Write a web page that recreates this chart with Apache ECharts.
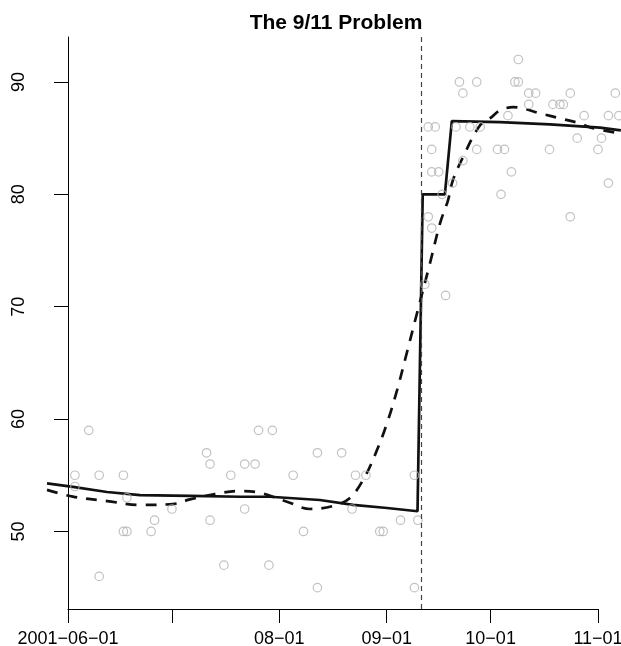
<!DOCTYPE html>
<html>
<head>
<meta charset="utf-8">
<script src="https://cdn.jsdelivr.net/npm/echarts@6/dist/echarts.min.js"></script>
<style>
html,body{margin:0;padding:0;background:#fff;}
#chart{width:621px;height:646px;}
</style>
</head>
<body>
<div id="chart"></div>
<script>
// ---- data ----
const title = 'The 9/11 Problem';
const originDate = '2001-06-01';
const eventDate = '2001-09-11';

const pollDates = [
  '2001-06-03','2001-06-03','2001-06-07','2001-06-10','2001-06-10','2001-06-17','2001-06-17','2001-06-18','2001-06-18','2001-06-25',
  '2001-06-26','2001-07-01','2001-07-11','2001-07-12','2001-07-12','2001-07-16','2001-07-18','2001-07-22','2001-07-22','2001-07-25',
  '2001-07-26','2001-07-29','2001-07-30','2001-08-05','2001-08-08','2001-08-12','2001-08-12','2001-08-19','2001-08-22','2001-08-23',
  '2001-08-26','2001-08-30','2001-08-31','2001-09-05','2001-09-09','2001-09-09','2001-09-10','2001-09-12','2001-09-13','2001-09-13',
  '2001-09-14','2001-09-14','2001-09-14','2001-09-15','2001-09-16','2001-09-17','2001-09-18','2001-09-20','2001-09-21','2001-09-22',
  '2001-09-23','2001-09-23','2001-09-25','2001-09-27','2001-09-27','2001-09-28','2001-10-03','2001-10-04','2001-10-05','2001-10-06',
  '2001-10-07','2001-10-08','2001-10-09','2001-10-09','2001-10-12','2001-10-12','2001-10-14','2001-10-18','2001-10-19','2001-10-21',
  '2001-10-22','2001-10-24','2001-10-24','2001-10-26','2001-10-28','2001-11-01','2001-11-02','2001-11-04','2001-11-04','2001-11-06',
  '2001-11-07'
];
const pollValues = [
  55,54,59,55,46,55,50,53,50,50,
  51,52,57,56,51,47,55,56,52,56,
  59,47,59,55,50,57,45,57,52,55,
  55,50,50,51,55,45,51,72,78,86,
  77,84,82,86,82,80,71,81,86,90,
  89,83,86,90,84,86,84,80,84,87,
  82,90,92,90,89,88,89,84,88,88,
  88,89,78,85,87,84,85,87,81,89,
  87
];

// step-model fit (solid): days since 2001-06-01
const stepDays   = [-6.06, 1.44, 11.26, 20.8, 35.2, 49.7, 58.3, 72.7, 82.3, 92.1, 100.9, 102.4, 108.8, 110.8, 124.7, 139.1, 153.6, 159.6];
const stepValues = [54.28, 53.96, 53.51, 53.24, 53.16, 53.09, 53.09, 52.8, 52.36, 52.09, 51.8, 80.0, 80.0, 86.52, 86.43, 86.22, 85.93, 85.69];

// smooth fit (dashed)
const smoothDays   = [-6.06, 1.4, 11.3, 20.8, 30.3, 35.2, 42.4, 49.7, 55.4, 63.2, 69.9, 76.5, 81.4, 85.7, 89.2, 92.1, 95.0, 97.9, 100.75, 104.5, 107.4, 109.7, 111.1, 114.0, 118.9, 122.3, 124.7, 128.5, 131.4, 136.3, 142.1, 147.8, 150.7, 159.6];
const smoothValues = [53.7, 53.1, 52.7, 52.36, 52.44, 52.85, 53.33, 53.6, 53.45, 52.65, 52.0, 52.27, 52.98, 54.87, 57.24, 59.64, 62.58, 66.0, 69.42, 73.87, 77.42, 79.47, 81.24, 83.29, 86.13, 86.87, 87.47, 87.76, 87.64, 87.2, 86.76, 86.31, 85.96, 85.4];

const xTickDates  = ['2001-06-01','2001-07-01','2001-08-01','2001-09-01','2001-10-01','2001-11-01'];
const xTickLabels = ['2001\u221206\u221201','','08\u221201','09\u221201','10\u221201','11\u221201'];
const yTicks = [50, 60, 70, 80, 90];
const xRange = [-6.06, 159.64];   // plotted day range (left edge .. right edge)
const yRange = [43.1, 94.0];

// ---- helpers ----
function dayOf(s) {
  const p = s.split('-').map(Number), o = originDate.split('-').map(Number);
  return (Date.UTC(p[0], p[1]-1, p[2]) - Date.UTC(o[0], o[1]-1, o[2])) / 86400000;
}
const xTickDays = xTickDates.map(dayOf);
const labelMap = {};
xTickDays.forEach((d, i) => { labelMap[d] = xTickLabels[i]; });
const xLabelDays = xTickDays.filter((d, i) => xTickLabels[i] !== '');

const pollData = pollDates.map((d, i) => [dayOf(d), pollValues[i]]);
const stepData = stepDays.map((d, i) => [d, stepValues[i]]);
const smoothData = smoothDays.map((d, i) => [d, smoothValues[i]]);

const FONT = '"Liberation Sans", Arial, Helvetica, sans-serif';

// layout
const W = 621, plotLeft = 47, plotTop = 37, plotBottom = 37;
const pxPerDay = (W - plotLeft) / (xRange[1] - xRange[0]);
const tickLeft = plotLeft + (xTickDays[0] - xRange[0]) * pxPerDay;
const tickRight = W - (xRange[1] - xTickDays[xTickDays.length - 1]) * pxPerDay;

const chart = echarts.init(document.getElementById('chart'), null, {renderer: 'canvas'});
chart.setOption({
  animation: false,
  backgroundColor: '#ffffff',
  title: {
    text: title,
    left: 331,
    textAlign: 'center',
    top: 8,
    textStyle: {fontFamily: FONT, fontSize: 21, fontWeight: 'bold', color: '#000'}
  },
  grid: [
    {left: plotLeft, right: 0, top: plotTop, bottom: plotBottom, containLabel: false, outerBoundsMode: 'none'},
    {left: tickLeft, right: W - tickRight, top: plotTop, bottom: plotBottom, containLabel: false, outerBoundsMode: 'none'}
  ],
  xAxis: [
    {
      type: 'value',
      gridIndex: 0,
      min: xRange[0],
      max: xRange[1],
      splitLine: {show: false},
      axisLine: {show: false},
      axisTick: {show: true, length: 14, customValues: xTickDays, lineStyle: {color: '#000', width: 1}},
      axisLabel: {
        customValues: xLabelDays,
        formatter: v => labelMap[v] !== undefined ? labelMap[v] : '',
        margin: 21,
        fontFamily: FONT, fontSize: 18, color: '#000'
      }
    },
    {
      type: 'value',
      gridIndex: 1,
      min: xTickDays[0],
      max: xTickDays[xTickDays.length - 1],
      splitLine: {show: false},
      axisLine: {show: true, lineStyle: {color: '#000', width: 1}},
      axisTick: {show: false},
      axisLabel: {show: false}
    }
  ],
  yAxis: [
    {
      type: 'value',
      gridIndex: 0,
      min: yRange[0],
      max: yRange[1],
      splitLine: {show: false},
      axisLine: {show: true, lineStyle: {color: '#000', width: 1}},
      axisTick: {show: true, length: 14, customValues: yTicks, lineStyle: {color: '#000', width: 1}},
      axisLabel: {
        customValues: yTicks,
        rotate: 90,
        margin: 19,
        fontFamily: FONT, fontSize: 18, color: '#000'
      }
    },
    {
      type: 'value',
      gridIndex: 1,
      min: yRange[0],
      max: yRange[1],
      show: false
    }
  ],
  series: [
    {
      type: 'line',
      xAxisIndex: 0, yAxisIndex: 0,
      data: stepData,
      showSymbol: false,
      symbol: 'none',
      lineStyle: {color: '#111', width: 2.7},
      z: 3
    },
    {
      type: 'line',
      xAxisIndex: 0, yAxisIndex: 0,
      data: smoothData,
      smooth: 0.35,
      showSymbol: false,
      symbol: 'none',
      lineStyle: {color: '#111', width: 2.7, type: [11, 9]},
      z: 3
    },
    {
      type: 'scatter',
      xAxisIndex: 0, yAxisIndex: 0,
      data: pollData,
      symbol: 'circle',
      symbolSize: 8.5,
      itemStyle: {color: 'rgba(0,0,0,0)', borderColor: '#b3b3b3', borderWidth: 1.2},
      z: 4,
      markLine: {
        silent: true,
        symbol: ['none', 'none'],
        label: {show: false},
        lineStyle: {color: '#444', width: 1.2, type: [5, 4]},
        data: [{xAxis: dayOf(eventDate)}]
      }
    }
  ]
});
</script>
</body>
</html>
